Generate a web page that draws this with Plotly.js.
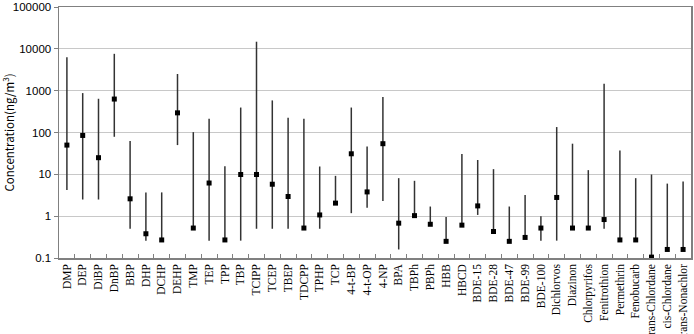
<!DOCTYPE html>
<html>
<head>
<meta charset="utf-8">
<script src="https://cdn.plot.ly/plotly-3.0.1.min.js"></script>
<style>html,body{margin:0;padding:0;background:#fff;}#chart{width:694px;height:334px;}</style>
</head>
<body>
<div id="chart"></div>
<script>
const categories = ["DMP","DEP","DiBP","DnBP","BBP","DHP","DCHP","DEHP","TMP","TEP","TPP","TBP","TCIPP","TCEP","TBEP","TDCPP","TPHP","TCP","4-t-BP","4-t-OP","4-NP","BPA","TBPh","PBPh","HBB","HBCD","BDE-15","BDE-28","BDE-47","BDE-99","BDE-100","Dichlorvos","Diazinon","Chlorpyrifos","Fenitrothion","Permethrin","Fenobucarb","trans-Chlordane","cis-Chlordane","trans-Nonachlor"];
const medians = [50,85,25,630,2.6,0.38,0.27,295,0.52,6.2,0.27,9.9,9.9,5.8,2.95,0.52,1.07,2.05,31,3.8,54,0.68,1.03,0.64,0.25,0.61,1.76,0.43,0.25,0.31,0.52,2.8,0.52,0.52,0.83,0.27,0.27,0.105,0.16,0.16];
const maxima = [6300,875,640,7600,63,3.7,3.7,2500,102,213,15.7,395,14800,585,225,213,15.4,9.2,395,46,705,8.1,7.0,1.7,0.96,30.5,22,13.3,1.7,3.2,1.0,135,54,12.6,1470,37,8.1,9.9,6.0,6.7];
const minima = [4.2,2.5,2.5,79,0.5,0.26,0.26,50,0.5,0.26,0.25,0.26,0.5,0.5,0.5,0.52,0.5,2.0,1.18,1.6,2.3,0.16,1.0,0.62,0.25,0.6,1.07,0.43,0.25,0.31,0.26,0.26,0.52,0.52,0.5,0.27,0.27,0.1,0.16,0.16];
const yTickVals = [0.1,1,10,100,1000,10000,100000];
const yTickText = ["0.1","1","10","100","1000","10000","100000"];

const trace = {
  type: "scatter",
  mode: "markers",
  x: categories,
  y: medians,
  marker: {symbol: "square", size: 5, color: "#000"},
  error_y: {
    type: "data",
    symmetric: false,
    array: maxima.map((v, i) => Math.max(v - medians[i], 0)),
    arrayminus: minima.map((v, i) => Math.max(medians[i] - v, 0)),
    color: "#333",
    thickness: 1.5,
    width: 0
  },
  cliponaxis: false,
  hoverinfo: "x+y"
};

const layout = {
  width: 694, height: 334,
  margin: {l: 59, r: 3, t: 7, b: 76},
  paper_bgcolor: "#fff",
  plot_bgcolor: "#fff",
  showlegend: false,
  xaxis: {
    type: "category",
    tickangle: -90,
    tickfont: {family: "Liberation Serif, Times New Roman, serif", size: 11.5, color: "#000"},
    ticks: "inside",
    tickson: "boundaries",
    ticklen: 4,
    tickcolor: "#808080",
    tickwidth: 1,
    showgrid: false,
    showline: true,
    linecolor: "#808080",
    linewidth: 1.5,
    mirror: true,
    range: [-0.5, categories.length - 0.5],
    automargin: false
  },
  yaxis: {
    type: "log",
    range: [-1, 5],
    tickvals: yTickVals,
    ticktext: yTickText,
    tickfont: {family: "Liberation Sans, Arial, sans-serif", size: 11.5, color: "#000"},
    ticks: "outside",
    ticklen: 4,
    tickcolor: "#808080",
    showgrid: true,
    gridcolor: "#c8c8c8",
    gridwidth: 1,
    showline: true,
    linecolor: "#808080",
    linewidth: 1.5,
    mirror: true,
    zeroline: false,
    title: {text: "Concentration(ng/m<sup>3</sup>)", font: {family: "Noto Sans CJK JP, DejaVu Sans, sans-serif", size: 11.5, color: "#000"}, standoff: 8},
    automargin: false
  }
};

Plotly.newPlot("chart", [trace], layout, {displayModeBar: false, staticPlot: true});
</script>
</body>
</html>
